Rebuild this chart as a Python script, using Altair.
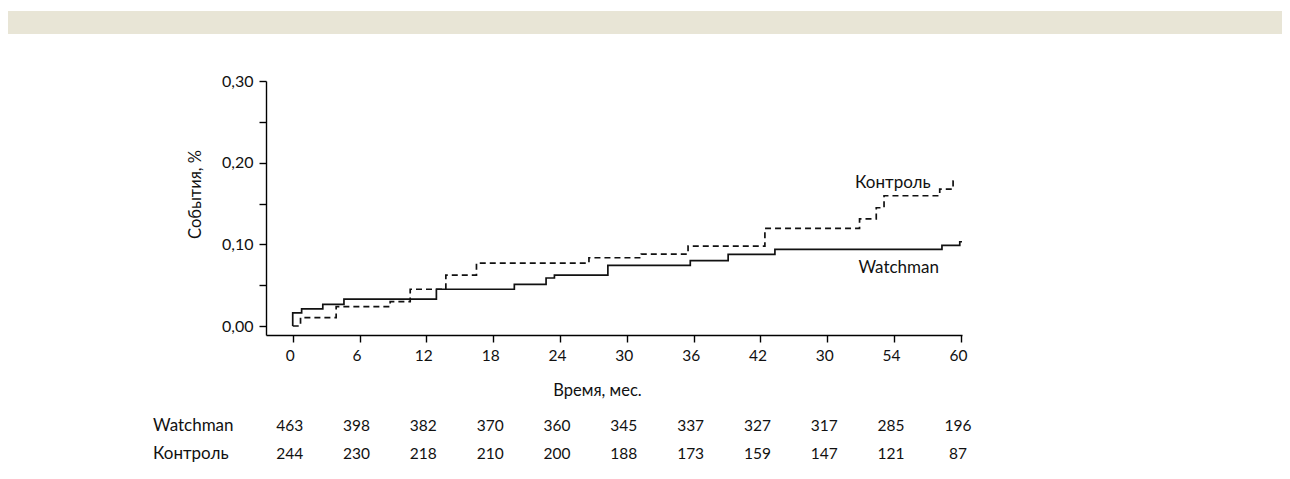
import altair as alt
import pandas as pd

# ---- data ----
watch_t = [0, 0, 0.8, 2.7, 4.6, 12.9, 19.9, 22.75, 23.5, 28.3, 35.7, 39.1, 43.3, 58.3, 59.9, 60.1]
watch_v = [0, 0.016, 0.021, 0.0265, 0.033, 0.045, 0.051, 0.0588, 0.0624, 0.0743, 0.080, 0.0877, 0.0939, 0.0988, 0.1032, 0.1032]

ctrl_t = [0, 0.7, 3.9, 8.75, 10.55, 13.75, 16.5, 26.6, 31.3, 35.5, 42.4, 50.9, 52.4, 53.1, 58.1, 59.3, 59.45]
ctrl_v = [0, 0.0102, 0.0237, 0.0298, 0.045, 0.0624, 0.0771, 0.0836, 0.0881, 0.0979, 0.1196, 0.1313, 0.1448, 0.1595, 0.1677, 0.1775, 0.1775]

x_ticks = [0, 6, 12, 18, 24, 30, 36, 42, 48, 54, 60]
x_tick_labels = ["0", "6", "12", "18", "24", "30", "36", "42", "30", "54", "60"]
y_ticks = [0, 0.05, 0.10, 0.15, 0.20, 0.25, 0.30]
y_tick_labels = ["0,00", "", "0,10", "", "0,20", "", "0,30"]

risk_months = [0, 6, 12, 18, 24, 30, 36, 42, 48, 54, 60]
risk_watchman = [463, 398, 382, 370, 360, 345, 337, 327, 317, 285, 196]
risk_control = [244, 230, 218, 210, 200, 188, 173, 159, 147, 121, 87]

series_names = ["Watchman", "Контроль"]
label_t = [50.8, 50.5]
label_v = [0.071, 0.175]

x_title = "Время, мес."
y_title = "События, %"

FONT = "Lato"
INK = "#111111"
BEIGE = "#e8e5d6"

W, H = 696, 254

# ---- tables ----
watch_df = pd.DataFrame({"t": watch_t, "v": watch_v, "i": range(len(watch_t))})
ctrl_df = pd.DataFrame({"t": ctrl_t, "v": ctrl_v, "i": range(len(ctrl_t))})
lab_df = pd.DataFrame({"t": label_t, "v": label_v, "name": series_names})
risk_w_df = pd.DataFrame({"t": risk_months, "n": risk_watchman})
risk_c_df = pd.DataFrame({"t": risk_months, "n": risk_control})

x_lab_expr = "[" + ",".join("'%s'" % s for s in x_tick_labels) + "][round(datum.value/6)]"
y_lab_expr = "[" + ",".join("'%s'" % s for s in y_tick_labels) + "][round(datum.value/0.05)]"

x_scale = alt.Scale(domain=[-2.4, 60.1], nice=False, zero=False)
y_scale = alt.Scale(domain=[-0.011, 0.30], nice=False, zero=False)

x_axis = alt.Axis(
    values=x_ticks, labelExpr=x_lab_expr, title=x_title, grid=False,
    tickSize=7, labelPadding=6, labelAngle=0, labelFontSize=15.5, labelOffset=-3,
    titleX=331, titleY=55, titleBaseline="middle", titleAlign="center",
)
y_axis = alt.Axis(
    values=y_ticks, labelExpr=y_lab_expr, title=y_title, grid=False,
    tickSize=7, labelPadding=6, labelFontSize=16,
    titleX=-71, titleY=113, titleBaseline="middle", titleAlign="center",
)

X = alt.X("t:Q", scale=x_scale, axis=x_axis)
Y = alt.Y("v:Q", scale=y_scale, axis=y_axis)

watch_line = alt.Chart(watch_df).mark_line(
    interpolate="step-after", color=INK, strokeWidth=1.7
).encode(x=X, y=Y, order="i:Q")

ctrl_line = alt.Chart(ctrl_df).mark_line(
    interpolate="step-after", color=INK, strokeWidth=1.7, strokeDash=[6, 4]
).encode(x=X, y=Y, order="i:Q")

labels = alt.Chart(lab_df).mark_text(
    align="left", baseline="middle", font=FONT, fontSize=17, color=INK
).encode(x=X, y=Y, text="name:N")

row_y = [345, 373]


def risk_row(df, yy):
    return alt.Chart(df).mark_text(
        align="center", baseline="middle", font=FONT, fontSize=15.5, color=INK, dx=-3
    ).encode(x=X, y=alt.value(yy), text="n:Q")


def row_label(name, yy):
    return alt.Chart(pd.DataFrame({"name": [name]})).mark_text(
        align="left", baseline="middle", font=FONT, fontSize=17, color=INK
    ).encode(x=alt.value(-113), y=alt.value(yy), text="name:N")


band = alt.Chart(pd.DataFrame({"a": [0]})).mark_rect(color=BEIGE).encode(
    x=alt.value(-258), x2=alt.value(1016), y=alt.value(-70), y2=alt.value(-47)
)

chart = alt.layer(
    band, watch_line, ctrl_line, labels,
    risk_row(risk_w_df, row_y[0]), risk_row(risk_c_df, row_y[1]),
    row_label(series_names[0], row_y[0]), row_label(series_names[1], row_y[1]),
).properties(
    width=W, height=H,
    autosize=alt.AutoSizeParams(type="none"),
    padding={"left": 258, "top": 73, "right": 320, "bottom": 136},
    background="#ffffff",
).configure_view(stroke=None).configure_axis(
    domainColor="#000000", domainWidth=1.4, tickColor="#000000", tickWidth=1.4,
    labelFont=FONT, labelFontSize=15, labelColor=INK,
    titleFont=FONT, titleFontSize=16.5, titleColor=INK, titleFontWeight="normal",
)

chart.save("out.html", embed_options={"renderer": "svg", "actions": False})
